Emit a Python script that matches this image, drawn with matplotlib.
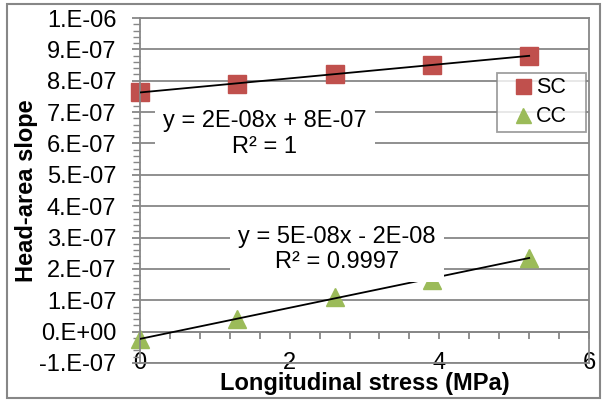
import numpy as np
import matplotlib.pyplot as plt
from matplotlib.patches import Rectangle
from matplotlib.ticker import MultipleLocator

plt.rcParams['font.family'] = ['Liberation Sans', 'DejaVu Sans']

# longitudinal stress (MPa) and head-area slope for both series
stress = [0, 1.3, 2.6, 3.9, 5.2]
sc_slope = [7.63e-7, 7.91e-7, 8.21e-7, 8.51e-7, 8.79e-7]
cc_slope = [-0.24e-7, 0.41e-7, 1.10e-7, 1.66e-7, 2.36e-7]

y_ticks = [-1e-7, 0, 1e-7, 2e-7, 3e-7, 4e-7, 5e-7, 6e-7, 7e-7, 8e-7, 9e-7, 1e-6]
y_labels = ['-1.E-07', '0.E+00', '1.E-07', '2.E-07', '3.E-07', '4.E-07',
            '5.E-07', '6.E-07', '7.E-07', '8.E-07', '9.E-07', '1.E-06']
x_ticks = [0, 2, 4, 6]

sc_eq = 'y = 2E-08x + 8E-07\nR² = 1'
cc_eq = 'y = 5E-08x - 2E-08\nR² = 0.9997'

red = '#C0504D'
green = '#9BBB59'
grey = '#878787'
fs = 17

fig = plt.figure(figsize=(6.06, 4.01), dpi=100)
fig.patches.append(Rectangle((0.0116, 0.0075), 0.979, 0.9825, transform=fig.transFigure,
                             fill=False, edgecolor=grey, lw=1.5))
ax = fig.add_axes([0.231, 0.0948, 0.741, 0.8603])

ax.set_xlim(0, 6)
ax.set_ylim(-1e-7, 1e-6)

# horizontal gridlines
for yv in y_ticks:
    ax.axhline(yv, color=grey, lw=1.3, zorder=0)

for side in ['left', 'right', 'top', 'bottom']:
    ax.spines[side].set_color(grey)
    ax.spines[side].set_linewidth(1.3)

ax.set_yticks(y_ticks)
ax.set_yticklabels(y_labels, fontsize=fs)
ax.yaxis.set_minor_locator(MultipleLocator(2e-8))
ax.tick_params(axis='y', which='major', direction='out', length=6, width=1.3, color=grey, pad=11)
ax.tick_params(axis='y', which='minor', direction='out', length=5, width=1.0, color=grey)

# x tick labels sit on the bottom edge, the axis line itself runs along y = 0
ax.set_xticks(x_ticks)
ax.set_xticklabels([str(v) for v in x_ticks], fontsize=fs)
ax.tick_params(axis='x', which='both', length=0, pad=0)
for t in ax.get_xticklabels():
    t.set_va('center')

zero_frac = (0 - (-1e-7)) / 1.1e-6
sec = ax.secondary_xaxis(zero_frac)
sec.set_xticks(x_ticks)
sec.set_xticklabels([])
sec.xaxis.set_minor_locator(MultipleLocator(0.4))
sec.spines['bottom'].set_color(grey)
sec.spines['bottom'].set_linewidth(1.3)
sec.tick_params(axis='x', which='both', direction='out', length=5, width=1.3, color=grey)

ax.set_xlabel('Longitudinal stress (MPa)', fontsize=fs, fontweight='bold')
ax.xaxis.set_label_coords(0.5, -0.027)
ax.set_ylabel('Head-area slope', fontsize=fs, fontweight='bold')
ax.yaxis.set_label_coords(-0.227, 0.5)

# linear trendlines
xs = np.array(stress)
for ys in (sc_slope, cc_slope):
    k, b = np.polyfit(xs, ys, 1)
    ax.plot([xs[0], xs[-1]], [k * xs[0] + b, k * xs[-1] + b], color='black', lw=1.3, zorder=3)

ax.plot(stress, sc_slope, 's', color=red, ms=13.5, label='SC', zorder=2, clip_on=False)
ax.plot(stress, cc_slope, '^', color=green, ms=13.5, label='CC', zorder=2, clip_on=False)

box = dict(facecolor='white', edgecolor='none', pad=6)
ax.text(1.67, 6.3e-7, sc_eq, ha='center', va='center', fontsize=fs, linespacing=1.22,
        bbox=box, zorder=4)
ax.text(2.63, 2.62e-7, cc_eq, ha='center', va='center', fontsize=fs, linespacing=1.22,
        bbox=box, zorder=4)

leg = ax.legend(loc='upper left', bbox_to_anchor=(0.795, 0.5, 0.198, 0.3406), mode='expand',
                fontsize=15.5, frameon=True, fancybox=False, handlelength=2.05,
                handletextpad=-0.42, borderpad=0.2, labelspacing=0.38, borderaxespad=0,
                markerscale=0.8)
leg.get_frame().set_edgecolor(grey)
leg.get_frame().set_linewidth(1.3)

fig.savefig('out.png', dpi=100)
